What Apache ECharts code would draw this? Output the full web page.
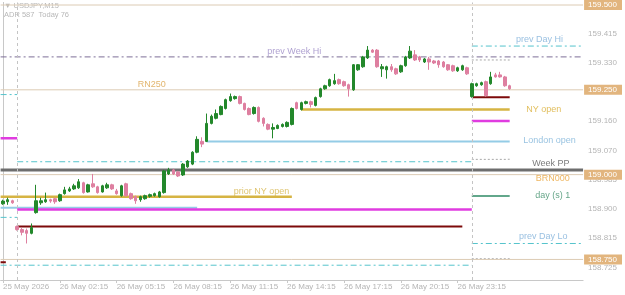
<!DOCTYPE html>
<html><head><meta charset="utf-8">
<script src="https://cdn.jsdelivr.net/npm/echarts@6/dist/echarts.min.js"></script>
<style>html,body{margin:0;padding:0;background:#fff}#c{width:625px;height:295px}</style>
</head><body><div id="c"></div>
<script>
// ---- data ----
const tickLabels = ['25 May 2026','26 May 02:15','26 May 05:15','26 May 08:15','26 May 11:15','26 May 14:15','26 May 17:15','26 May 20:15','26 May 23:15'];
const tickEvery = 12;
const slotCount = 123;            // bars + empty right shift
// [open, close, low, high]
const bars = [
[158.914,158.922,158.911,158.926],[158.920,158.926,158.911,158.932],[158.923,158.917,158.914,158.926],
[158.847,158.838,158.835,158.850],[158.838,158.830,158.821,158.844],[158.835,158.827,158.797,158.841],
[158.827,158.844,158.824,158.856],[158.888,158.923,158.885,158.970],[158.917,158.923,158.911,158.932],
[158.920,158.926,158.917,158.947],[158.926,158.922,158.917,158.929],[158.929,158.920,158.914,158.932],
[158.923,158.941,158.920,158.944],[158.944,158.955,158.941,158.964],[158.952,158.958,158.949,158.964],
[158.958,158.967,158.955,158.973],[158.961,158.979,158.958,158.987],[158.976,158.947,158.944,158.979],
[158.949,158.970,158.947,158.973],[158.973,158.964,158.961,159.002],[158.964,158.947,158.944,158.967],
[158.949,158.967,158.947,158.970],[158.961,158.970,158.958,158.976],[158.970,158.958,158.955,158.973],
[158.952,158.944,158.941,158.958],[158.938,158.967,158.935,158.970],[158.973,158.938,158.935,158.976],
[158.944,158.929,158.926,158.947],[158.935,158.923,158.914,158.938],[158.926,158.935,158.920,158.938],
[158.929,158.938,158.926,158.941],[158.936,158.941,158.932,158.944],[158.938,158.944,158.935,158.947],
[158.935,158.949,158.932,158.952],[158.947,159.011,158.944,159.014],[159.002,159.014,158.999,159.020],
[159.014,159.002,158.999,159.017],[159.008,158.996,158.993,159.011],[158.999,159.031,158.996,159.034],
[159.023,159.040,159.020,159.043],[159.031,159.066,159.028,159.069],[159.066,159.104,159.063,159.113],
[159.098,159.090,159.081,159.110],[159.098,159.151,159.096,159.180],[159.151,159.172,159.148,159.177],
[159.166,159.180,159.163,159.192],[159.177,159.201,159.175,159.204],[159.195,159.221,159.192,159.224],
[159.218,159.230,159.215,159.239],[159.224,159.230,159.221,159.233],[159.230,159.210,159.207,159.233],
[159.210,159.192,159.189,159.212],[159.195,159.177,159.175,159.198],[159.180,159.198,159.177,159.201],
[159.198,159.157,159.154,159.201],[159.166,159.151,159.142,159.169],[159.148,159.134,159.131,159.151],
[159.134,159.139,159.107,159.151],[159.136,159.145,159.134,159.148],[159.142,159.148,159.139,159.151],
[159.142,159.154,159.139,159.157],[159.148,159.195,159.145,159.198],[159.212,159.195,159.192,159.215],
[159.192,159.212,159.189,159.215],[159.210,159.215,159.207,159.218],[159.215,159.207,159.198,159.218],
[159.204,159.227,159.201,159.230],[159.230,159.253,159.227,159.256],[159.253,159.262,159.250,159.265],
[159.262,159.280,159.259,159.283],[159.268,159.277,159.265,159.297],[159.280,159.268,159.265,159.283],
[159.274,159.262,159.259,159.277],[159.265,159.253,159.230,159.268],[159.250,159.324,159.247,159.326],
[159.309,159.324,159.306,159.326],[159.318,159.347,159.315,159.350],[159.344,159.367,159.341,159.379],
[159.367,159.361,159.359,159.370],[159.367,159.318,159.315,159.370],[159.312,159.318,159.288,159.326],
[159.309,159.318,159.283,159.321],[159.318,159.309,159.303,159.326],[159.312,159.297,159.294,159.315],
[159.303,159.321,159.300,159.324],[159.321,159.347,159.318,159.350],[159.344,159.364,159.341,159.379],
[159.353,159.338,159.335,159.367],[159.347,159.338,159.332,159.350],[159.332,159.341,159.329,159.344],
[159.341,159.332,159.309,159.347],[159.335,159.329,159.326,159.338],[159.335,159.324,159.315,159.338],
[159.332,159.318,159.315,159.335],[159.324,159.309,159.306,159.326],[159.321,159.306,159.303,159.324],
[159.306,159.315,159.303,159.318],[159.309,159.321,159.306,159.324],[159.315,159.297,159.294,159.318],
[159.230,159.268,159.227,159.271],[159.262,159.268,159.259,159.271],[159.265,159.271,159.262,159.274],
[159.274,159.233,159.230,159.277],[159.268,159.288,159.265,159.303],[159.294,159.288,159.286,159.300],
[159.294,159.288,159.286,159.303],[159.288,159.262,159.259,159.291],[159.262,159.253,159.250,159.265]
];
const daySeparators = [3, 99];
const levelNames  = ['RN500','prevDayHi','prevWeekHi','dotA','RN250','cyanL1','todayLow','nyOpen','magToday','magL','londonOpen','dotB','cyanMid','weekPP','BRN000','dayS1','priorNY','priorLondon','magPrev','cyanL2','maroonPrev','prevDayLo','dotC','RN750','cyanBottom','maroonL'];
const levelPrices = [159.500,159.379,159.347,159.338,159.250,159.236,159.228,159.192,159.158,159.107,159.098,159.045,159.038,159.014,159.000,158.937,158.935,158.902,158.897,158.874,158.847,158.797,158.752,158.750,158.733,158.742];
const levelFrom   = [-0.5,99,-0.5,99,-0.5,-0.5,99,63,99,-0.5,43,99,3,-0.5,-0.5,99,-0.5,-0.5,3,-0.5,3,99,99,-0.5,-0.5,-0.5];
const levelTo     = [122.5,122.5,122.5,107,122.5,3,107,107,107,3,107,107,99,122.5,122.5,107,61,41,99,3,97,122.5,107,122.5,99,0.6];
const annTexts  = ['prev Week Hi','RN250','prior NY open','prev Day Hi','NY open','London open','Week PP','BRN000','day (s) 1','prev Day Lo'];
const annX      = [61.5,31.4,54.6,113.3,114.2,115.4,115.7,116.1,116.1,114.1];
const annPrices = [159.362,159.265,158.951,159.397,159.191,159.101,159.034,158.990,158.939,158.818];
const priceTicks = [159.415,159.330,159.245,159.160,159.070,158.985,158.900,158.815,158.725];
const roundLevels = [159.500,159.250,159.000,158.750];
const yMin = 158.6894, yMax = 159.5076;

// ---- styles ----
const FONT = "'Liberation Sans', Arial, sans-serif";
const DASHDOT = [6,3,2,3];
function levelStyle(n){
  if (n.startsWith('RN') || n === 'BRN000') return {color:'#dccbb4', width:1, type:'solid'};
  if (n === 'prevDayHi' || n === 'prevDayLo' || n.startsWith('cyan')) return {color:'#55c4cc', width:1, type:DASHDOT};
  if (n === 'prevWeekHi') return {color:'#7d6f98', width:1, type:DASHDOT};
  if (n.startsWith('dot')) return {color:'#a8a8a8', width:1, type:[2,2]};
  if (n === 'todayLow' || n.startsWith('maroon')) return {color:'#7d0a0a', width:2, type:'solid'};
  if (n === 'nyOpen' || n === 'priorNY') return {color:'#d6b443', width:2.5, type:'solid'};
  if (n.startsWith('mag')) return {color:'#e03ce0', width:2.5, type:'solid'};
  if (n === 'londonOpen' || n === 'priorLondon') return {color:'#94cce6', width:2, type:'solid'};
  if (n === 'weekPP') return {color:'#6e6e6e', width:3, type:'solid'};
  if (n === 'dayS1') return {color:'#2e8a64', width:1.5, type:'solid'};
  return {color:'#999', width:1, type:'solid'};
}
const annColors = ['#9b8ac6','#dba24a','#d6b44a','#7fb0da','#d9ae35','#80b4da','#5a5a5a','#eaa43a','#3f8f6a','#7fb0da'];

// categories (15-minute slots)
const MON = ['Jan','Feb','Mar','Apr','May','Jun','Jul','Aug','Sep','Oct','Nov','Dec'];
const t0 = Date.UTC(2026,4,25,23,15);
const categories = [];
for (let i = 0; i < slotCount; i++) {
  const d = new Date(t0 + i*15*60000);
  const p = v => String(v).padStart(2,'0');
  categories.push(d.getUTCDate()+' '+MON[d.getUTCMonth()]+' '+p(d.getUTCHours())+':'+p(d.getUTCMinutes()));
}
const showTick = i => i % tickEvery === 0 && i/tickEvery < tickLabels.length;

const series = [];
levelNames.forEach((n,i) => {
  series.push({
    type:'line', xAxisIndex:1, yAxisIndex:0, silent:true, symbol:'none', z:2,
    data:[[levelFrom[i], levelPrices[i]],[levelTo[i], levelPrices[i]]],
    lineStyle: levelStyle(n)
  });
});
series.push({
  type:'candlestick', xAxisIndex:0, yAxisIndex:0, z:5, barWidth:3,
  data: bars,
  itemStyle:{color:'#23882b', color0:'#de7fa0', borderColor:'#23882b', borderColor0:'#de7fa0', borderWidth:1},
  markLine:{silent:true, symbol:'none', animation:false,
    label:{show:false},
    lineStyle:{color:'#c4c4c4', type:[3,3], width:1},
    data: daySeparators.map(i => ({xAxis: categories[i]}))}
});
series.push({
  type:'scatter', xAxisIndex:1, yAxisIndex:0, silent:true, symbolSize:1, z:6,
  itemStyle:{color:'rgba(0,0,0,0)'},
  data: annTexts.map((t,i) => ({value:[annX[i], annPrices[i]], name:t,
    label:{show:true, position:'inside', formatter:t, color:annColors[i], fontSize:9, fontFamily:FONT}}))
});

const chart = echarts.init(document.getElementById('c'), null, {renderer:'canvas'});
chart.setOption({
  animation:false,
  backgroundColor:'#ffffff',
  grid:{left:0, right:38, top:0, bottom:15, containLabel:false},
  xAxis:[
    {type:'category', data:categories, boundaryGap:true, position:'bottom',
     axisLine:{lineStyle:{color:'#c8c8c8'}},
     axisTick:{show:true, interval:(i)=>showTick(i), alignWithLabel:true, length:3, lineStyle:{color:'#c8c8c8'}},
     axisLabel:{interval:(i)=>showTick(i), formatter:(v,i)=>tickLabels[i/tickEvery] || '', align:'left',
       color:'#b5b5b5', fontSize:8, fontFamily:FONT, margin:3},
     splitLine:{show:false}},
    {type:'value', min:-0.5, max:slotCount-0.5, position:'bottom', show:false}
  ],
  yAxis:[
    {type:'value', position:'right', min:yMin, max:yMax, scale:true,
     axisLine:{show:true, lineStyle:{color:'#c8c8c8'}},
     axisTick:{show:false},
     splitLine:{show:false},
     axisLabel:{customValues:priceTicks, formatter:v=>v.toFixed(3), color:'#b5b5b5', fontSize:8, fontFamily:FONT, margin:5}},
    {type:'value', position:'right', min:yMin, max:yMax, scale:true, z:10,
     axisLine:{show:false}, axisTick:{show:false}, splitLine:{show:false},
     axisLabel:{customValues:roundLevels, formatter:v=>v.toFixed(3), color:'#ffffff', backgroundColor:'#e2b57e',
       padding:[1,5,1,4], fontSize:8, fontFamily:FONT, margin:1}}
  ],
  graphic:[
    {type:'text', left:4, top:2, style:{text:'▼ USDJPY,M15', fill:'#b8b8b8', font:"7.5px "+FONT}},
    {type:'text', left:4, top:11, style:{text:'ADR 587  Today 76', fill:'#b8b8b8', font:"7.5px "+FONT}}
  ],
  series: series
});
</script></body></html>
